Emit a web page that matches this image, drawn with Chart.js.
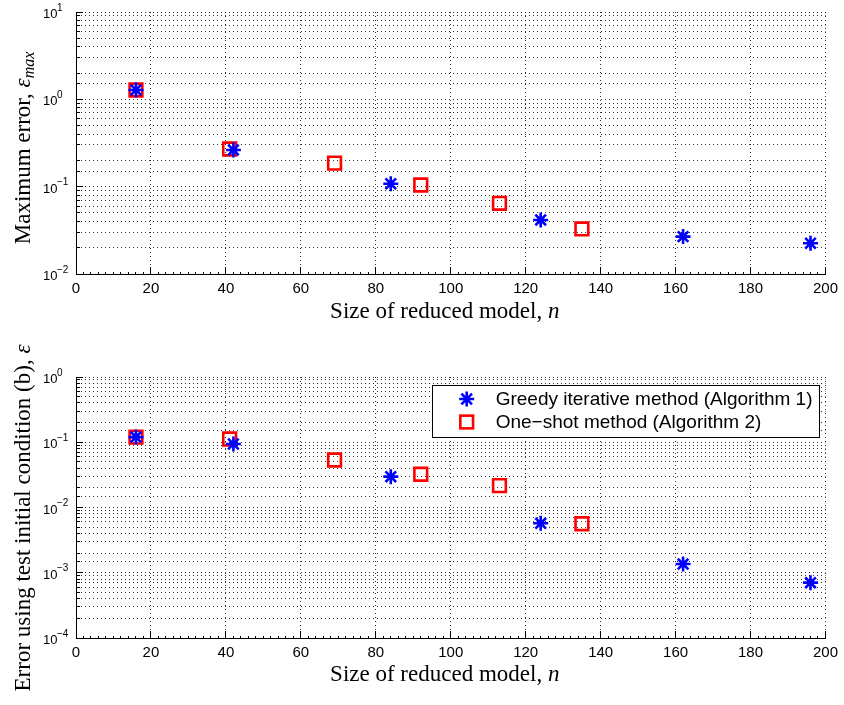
<!DOCTYPE html>
<html><head><meta charset="utf-8">
<script src="https://cdn.jsdelivr.net/npm/chart.js@4.4.0/dist/chart.umd.min.js"></script>
<style>
html,body{margin:0;padding:0;background:#fff;width:844px;height:705px;overflow:hidden;}
#topChart{position:absolute;left:0;top:0;}
#botChart{position:absolute;left:0;top:325px;}
</style></head><body>
<canvas id="topChart" width="844" height="330"></canvas>
<canvas id="botChart" width="844" height="380"></canvas>
<script>
// ---- data ----
const nGreedy = [16, 42, 84, 124, 162, 196];
const nOneShot = [16, 41, 69, 92, 113, 135];
const maxErrGreedy = [1.28, 0.263, 0.108, 0.0416, 0.0268, 0.0225];
const maxErrOneShot = [1.28, 0.27, 0.186, 0.1045, 0.0645, 0.0328];
const testErrGreedy = [0.12, 0.094, 0.0297, 0.00573, 0.00136, 0.000705];
const testErrOneShot = [0.12, 0.112, 0.0535, 0.0323, 0.0216, 0.00564];
const seriesLabels = ['Greedy iterative method (Algorithm 1)', 'One\u2212shot method (Algorithm 2)'];
const xTickStep = 20;
const xRange = [0, 200];
const topYRange = [1e-2, 1e1];
const botYRange = [1e-4, 1e0];
const xTitleParts = [['Size of reduced model, ', 'r'], ['n', 'i']];
const topYTitleParts = [['Maximum error, ', 'r'], ['\u03b5', 'i'], ['max', 'is']];
const botYTitleParts = [['Error using test initial condition (b), ', 'r'], ['\u03b5', 'i']];

const SANS = '"Liberation Sans", Arial, Helvetica, sans-serif';
const SERIF = '"Liberation Serif", "Times New Roman", serif';
const BLUE = '#0000ff', RED = '#ff0000';

function isPow10(v){ const e=Math.log10(v); return Math.abs(e-Math.round(e))<1e-6; }
function pts(xs, ys){ return xs.map((x,i)=>({x:x, y:ys[i]})); }

function datasets(yg, yo){
  return [
    {label: seriesLabels[0], data: pts(nGreedy, yg), pointStyle:'star', pointRadius:7.5, pointHoverRadius:7.5,
     borderColor:BLUE, backgroundColor:BLUE, borderWidth:2.6, pointBorderWidth:2.6},
    {label: seriesLabels[1], data: pts(nOneShot, yo), pointStyle:'rect', pointRadius:9, pointHoverRadius:9,
     borderColor:RED, backgroundColor:'rgba(0,0,0,0)', borderWidth:2.6, pointBorderWidth:2.6}
  ];
}

function drawRich(ctx, parts, cx, cy, angle){
  const fontOf = s => s==='r' ? '23px '+SERIF : (s==='i' ? 'italic 23px '+SERIF : 'italic 16px '+SERIF);
  ctx.save();
  ctx.translate(cx, cy); ctx.rotate(angle);
  ctx.fillStyle = '#000'; ctx.textAlign='left'; ctx.textBaseline='alphabetic';
  let total = 0;
  const ws = parts.map(p=>{ ctx.font = fontOf(p[1]); const w = ctx.measureText(p[0]).width; total += w; return w; });
  let x = -total/2;
  parts.forEach((p,i)=>{ ctx.font = fontOf(p[1]); ctx.fillText(p[0], x, p[1]==='is' ? 12 : 8); x += ws[i]; });
  ctx.restore();
}

function alignPx(p){ return Math.round(p - 0.5) + 0.5; }

const inwardTicks = {
  id: 'inwardTicks',
  beforeDatasetsDraw(chart){
    const {ctx, chartArea:a, scales:{x, y}} = chart;
    ctx.save(); ctx.strokeStyle='#000'; ctx.lineWidth=1; ctx.setLineDash([]);
    ctx.beginPath();
    x.ticks.forEach(t=>{ const px = alignPx(x.getPixelForValue(t.value)); ctx.moveTo(px, a.bottom); ctx.lineTo(px, a.bottom-7); });
    for (let v = x.min; v <= x.max; v += 2){ const px = alignPx(x.getPixelForValue(v)); ctx.moveTo(px, a.bottom); ctx.lineTo(px, a.bottom-2); }
    y.ticks.forEach(t=>{ const py = alignPx(y.getPixelForValue(t.value)); ctx.moveTo(a.left, py); ctx.lineTo(a.left + (isPow10(t.value)?7:4), py); });
    ctx.stroke(); ctx.restore();
  }
};

// Power-of-ten labels for the log axis
const logLabels = {
  id: 'logLabels',
  afterDraw(chart){
    const {ctx, scales:{y}} = chart;
    ctx.save(); ctx.fillStyle = '#000'; ctx.textAlign = 'left'; ctx.textBaseline = 'alphabetic';
    y.ticks.forEach(t=>{
      if (!isPow10(t.value)) return;
      const e = Math.round(Math.log10(t.value));
      const py = y.getPixelForValue(t.value);
      const x0 = y.left;
      ctx.font = '13px ' + SANS;
      ctx.fillText('10', x0, py + 6);
      const w = ctx.measureText('10').width;
      ctx.font = '10px ' + SANS;
      ctx.fillText(e < 0 ? '\u2212' + Math.abs(e) : String(e), x0 + w - 0.5, py - 1.5);
    });
    ctx.restore();
  }
};

function titlesPlugin(yParts, yCenterY, xTitleY){
  return {
    id: 'axisTitles',
    afterDraw(chart){
      const {ctx, chartArea:a} = chart;
      drawRich(ctx, xTitleParts, (a.left + a.right)/2 - 6, xTitleY, 0);
      drawRich(ctx, yParts, 22, yCenterY, -Math.PI/2);
    }
  };
}

const legendPlugin = {
  id: 'insideLegend',
  afterDatasetsDraw(chart){
    const {ctx, chartArea:a} = chart;
    ctx.save();
    const font = '19px ' + SANS;
    ctx.font = font;
    const tw = Math.max(...seriesLabels.map(s=>ctx.measureText(s).width));
    const right = a.right - 7, top = a.top + 8, h = 52;
    const w = 64 + tw + 6;
    const left = right - w;
    ctx.fillStyle = '#fff';
    ctx.fillRect(left, top, w, h);
    ctx.strokeStyle = '#000'; ctx.lineWidth = 1; ctx.setLineDash([]);
    ctx.strokeRect(Math.round(left)+0.5, Math.round(top)+0.5, Math.round(w), h);
    const mx = left + 35;
    const sy = top + 14, r = 7.5;
    ctx.strokeStyle = BLUE; ctx.lineWidth = 2.6; ctx.beginPath();
    for (let k=0;k<4;k++){ const ang = k*Math.PI/4; const dx = Math.cos(ang)*r, dy = Math.sin(ang)*r; ctx.moveTo(mx-dx, sy-dy); ctx.lineTo(mx+dx, sy+dy); }
    ctx.stroke();
    const qy = top + 37, s = 9*Math.SQRT1_2;
    ctx.strokeStyle = RED; ctx.lineWidth = 2.6;
    ctx.strokeRect(mx - s, qy - s, 2*s, 2*s);
    ctx.fillStyle = '#000'; ctx.textAlign='left'; ctx.textBaseline='middle';
    ctx.fillText(seriesLabels[0], left + 64, sy + 1);
    ctx.fillText(seriesLabels[1], left + 64, qy + 1);
    ctx.restore();
  }
};

function makeOptions(yMin, yMax, padTop, xHeight, xPad){
  const gridCol = 'rgba(0,0,0,0.8)';
  return {
    responsive:false, animation:false, devicePixelRatio:1,
    layout:{padding:{left:43, right:18, top:padTop, bottom:0}},
    plugins:{legend:{display:false}, tooltip:{enabled:false}, title:{display:false}},
    scales:{
      x:{type:'linear', min:xRange[0], max:xRange[1],
         afterFit: s => { s.height = xHeight; },
         ticks:{stepSize:xTickStep, color:'#000', font:{family:SANS, size:15}, padding:xPad, maxRotation:0},
         grid:{color:gridCol, lineWidth:1, drawTicks:false},
         border:{display:true, color:'#000', width:1, dash:[1,3]}},
      y:{type:'logarithmic', min:yMin, max:yMax,
         afterFit: s => { s.width = 33; },
         ticks:{display:false, autoSkip:false},
         grid:{color:gridCol, lineWidth:1, drawTicks:false},
         border:{display:true, color:'#000', width:1, dash:[1,3]}}
    }
  };
}

new Chart(document.getElementById('topChart'), {
  type:'scatter',
  data:{datasets: datasets(maxErrGreedy, maxErrOneShot)},
  options: makeOptions(topYRange[0], topYRange[1], 12, 56, 6),
  plugins:[inwardTicks, logLabels, titlesPlugin(topYTitleParts, 148, 310)]
});

new Chart(document.getElementById('botChart'), {
  type:'scatter',
  data:{datasets: datasets(testErrGreedy, testErrOneShot)},
  options: makeOptions(botYRange[0], botYRange[1], 52, 67, 6),
  plugins:[inwardTicks, logLabels, titlesPlugin(botYTitleParts, 193, 348), legendPlugin]
});
</script>
</body></html>
